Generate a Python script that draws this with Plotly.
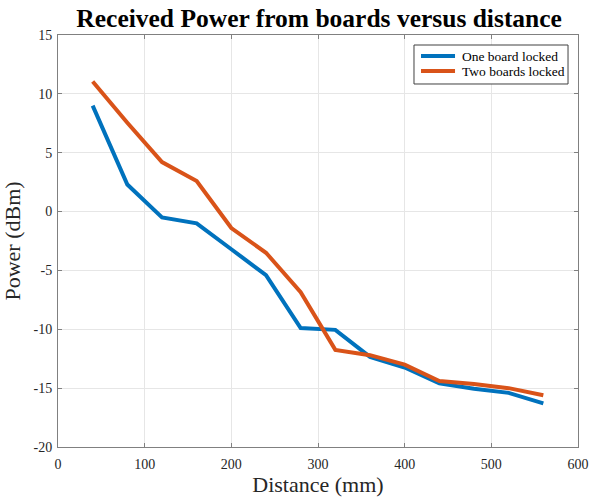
import plotly.graph_objects as go

distance = [40, 80, 120, 160, 200, 240, 280, 320, 360, 400, 440, 480, 520, 560]
one_board = [9.0, 2.3, -0.5, -1.0, -3.2, -5.4, -9.9, -10.05, -12.35, -13.25, -14.6, -15.05, -15.4, -16.3]
two_boards = [11.05, 7.55, 4.2, 2.6, -1.4, -3.5, -6.85, -11.75, -12.2, -13.0, -14.4, -14.65, -15.0, -15.6]

series_names = ["One board locked", "Two boards locked"]
series_colors = ["#0072BD", "#D95319"]

x_ticks = [0, 100, 200, 300, 400, 500, 600]
y_ticks = [-20, -15, -10, -5, 0, 5, 10, 15]
y_tick_text = ["-20", "-15", "-10", "-5", "0", "5", "10", "15"]

serif = "Liberation Serif"
axis_col = "#262626"

fig = go.Figure()
for name, col, vals in zip(series_names, series_colors, [one_board, two_boards]):
    fig.add_trace(go.Scatter(x=distance, y=vals, mode="lines", name=name,
                             line=dict(color=col, width=4), showlegend=False))

axis_common = dict(showline=True, linecolor="#808080", linewidth=1, mirror="ticks",
                   ticks="inside", ticklen=4, tickcolor="#808080",
                   showgrid=True, gridcolor="#e6e6e6", gridwidth=1, zeroline=False,
                   automargin=False,
                   tickfont=dict(family=serif, size=14, color=axis_col))

# compact MATLAB-style legend box (paper coordinates)
box = dict(x0=0.6846, x1=0.9808, y0=0.8811, y1=0.9757)
item_y = [0.949, 0.9126]
shapes = [dict(type="rect", xref="paper", yref="paper", **box,
               line=dict(color="#404040", width=1), fillcolor="white", layer="above")]
annotations = []
for name, col, yy in zip(series_names, series_colors, item_y):
    shapes.append(dict(type="line", xref="paper", yref="paper", x0=0.6981, x1=0.7635,
                       y0=yy, y1=yy, line=dict(color=col, width=4), layer="above"))
    annotations.append(dict(text=name, xref="paper", yref="paper", x=0.7731, y=yy,
                            xanchor="left", yanchor="middle", showarrow=False,
                            font=dict(family=serif, size=13.5, color="black")))

fig.update_layout(
    width=591, height=498,
    paper_bgcolor="white", plot_bgcolor="white",
    margin=dict(l=58, r=13, t=35, b=51),
    title=dict(text="<b>Received Power from boards versus distance</b>",
               x=0.54, xanchor="center", y=0.963, yanchor="middle", automargin=False,
               font=dict(family=serif, size=25.5, color="black")),
    xaxis=dict(range=[0, 600], tickvals=x_ticks, ticklabelstandoff=4,
               title=dict(text="Distance (mm)", font=dict(family=serif, size=22, color=axis_col), standoff=4),
               **axis_common),
    yaxis=dict(range=[-20, 15], tickvals=y_ticks, ticktext=y_tick_text, ticklabelstandoff=2,
               title=dict(text="Power (dBm)", font=dict(family=serif, size=22, color=axis_col), standoff=10),
               **axis_common),
    shapes=shapes,
    annotations=annotations,
    showlegend=False,
)

fig.write_html("out.html", config={"displayModeBar": False},
               post_script="document.body.style.margin='0';document.body.style.overflow='hidden';")
